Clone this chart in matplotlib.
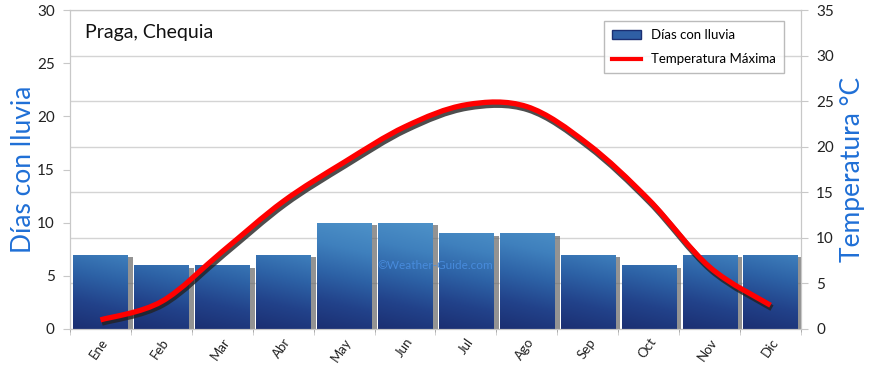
import numpy as np
import matplotlib
matplotlib.use("Agg")
import matplotlib.pyplot as plt
from matplotlib.path import Path
from matplotlib.patches import PathPatch
import matplotlib.patheffects as pe
from matplotlib.colors import LinearSegmentedColormap
from matplotlib.lines import Line2D
from matplotlib.patches import Patch

months = ["Ene", "Feb", "Mar", "Abr", "May", "Jun", "Jul", "Ago", "Sep", "Oct", "Nov", "Dic"]
rain_days = [7, 6, 6, 7, 10, 10, 9, 9, 7, 6, 7, 7]
temp_max = [1.0, 3.0, 8.5, 14.0, 18.3, 22.2, 24.6, 24.4, 20.3, 14.2, 6.8, 2.6]
left_ticks = [0, 5, 10, 15, 20, 25, 30]
right_ticks = [0, 5, 10, 15, 20, 25, 30, 35]

plt.rcParams['font.family'] = ['Lato', 'DejaVu Sans']
fig = plt.figure(figsize=(8.7, 3.65), dpi=100)
pos = [70/870, 36/365, 731/870, 319/365]

axg = fig.add_axes(pos)
axg.set_xlim(-0.5, 11.5)
axg.set_ylim(0, 35)
axg.set_yticks(right_ticks)
axg.tick_params(left=False, labelleft=False, bottom=False, labelbottom=False)
axg.grid(axis='y', color='#d4d4d4', lw=1)
for s in axg.spines.values():
    s.set_visible(False)

ax = fig.add_axes(pos, sharex=axg)
ax.patch.set_alpha(0)
ax.set_ylim(0, 30)
ax.set_yticks(left_ticks)
x = np.arange(len(months))
bars = ax.bar(x, rain_days, width=0.89, color='#2f5fa5', zorder=2,
              path_effects=[pe.SimplePatchShadow(offset=(4, -2), shadow_rgbFace='#666666', alpha=0.7), pe.Normal()])
cmap = LinearSegmentedColormap.from_list('b', ['#1b2f72', '#22428a', '#2d62a6', '#3f80bd', '#4d91c8'])
for b in bars:
    x0, y0 = b.get_x(), b.get_y()
    w, h = b.get_width(), b.get_height()
    xx = np.linspace(0, 1, 50)
    yy = np.linspace(0, 1, 100)
    X, Y = np.meshgrid(xx, yy)
    Z = np.clip((Y * h + X * 1.2) / 11.0, 0, 1)
    im = ax.imshow(Z, extent=[x0, x0 + w, y0, y0 + h], origin='lower', cmap=cmap,
                   vmin=0, vmax=1, aspect='auto', zorder=2.5, interpolation='bilinear')
    im.set_clip_path(b)
ax.set_xlim(-0.5, 11.5)
ax.set_xticks(x)
ax.set_xticklabels(months, rotation=55, ha='right', va='top', rotation_mode='anchor', fontsize=9.5, color='#222222')
ax.set_xticks(np.arange(-0.5, 12, 1), minor=True)
ax.tick_params(axis='x', which='major', length=0, pad=5)
ax.tick_params(axis='x', which='minor', length=4, color='#c8c8c8')
ax.tick_params(axis='y', length=5, color='#c8c8c8', labelsize=11, labelcolor='#222222', pad=6)
for side in ['left', 'right', 'bottom', 'top']:
    ax.spines[side].set_color('#c8c8c8')
ax.set_ylabel('Días con lluvia', color='#1f6fd6', fontsize=19, va='center')
ax.yaxis.set_label_coords(-0.064, 0.5)

ax2 = ax.twinx()
ax2.set_ylim(0, 35)
ax2.set_yticks(right_ticks)
ax2.tick_params(axis='y', length=5, color='#c8c8c8', labelsize=11, labelcolor='#222222', pad=6)
for side in ['left', 'right', 'bottom', 'top']:
    ax2.spines[side].set_color('#c8c8c8')
ax2.set_ylabel('Temperatura °C', color='#1f6fd6', fontsize=19, va='center')
ax2.yaxis.set_label_coords(1.071, 0.5)

# smooth curve through the data points (Catmull-Rom as Bezier)
pts = np.column_stack([x, temp_max]).astype(float)
verts = [tuple(pts[0])]
codes = [Path.MOVETO]
n = len(pts)
for i in range(n - 1):
    p0 = pts[i - 1] if i > 0 else pts[i]
    p1 = pts[i]
    p2 = pts[i + 1]
    p3 = pts[i + 2] if i + 2 < n else pts[i + 1]
    c1 = p1 + (p2 - p0) / 6.0
    c2 = p2 - (p3 - p1) / 6.0
    verts += [tuple(c1), tuple(c2), tuple(p2)]
    codes += [Path.CURVE4] * 3
curve = PathPatch(Path(verts, codes), facecolor='none', edgecolor='#ff0000', lw=3.8,
                  capstyle='butt', zorder=5,
                  path_effects=[pe.SimpleLineShadow(offset=(1, -2), shadow_color='#222222', alpha=0.8, linewidth=4.5), pe.Normal()])
ax2.add_patch(curve)

ax.text(0.02, 0.93, 'Praga, Chequia', transform=ax.transAxes, fontsize=14, color='#111111', va='center')
ax.text(0.5, 0.2, '©Weather-Guide.com', transform=ax.transAxes, fontsize=8.5, color='#4a8ee0', alpha=0.9, ha='center', va='center', zorder=6)

handles = [Patch(facecolor='#2f5fa5', edgecolor='#1b2f72'),
           Line2D([0], [0], color='red', lw=3)]
leg = ax2.legend(handles, ['Días con lluvia', 'Temperatura Máxima'], loc='upper right',
                 bbox_to_anchor=(0.986, 0.985), fontsize=9.5, frameon=True, fancybox=False,
                 edgecolor='#aaaaaa', handlelength=2.2, borderpad=0.6, labelspacing=0.9)
leg.get_frame().set_linewidth(1)

fig.savefig('out.png', dpi=100, facecolor='white')
